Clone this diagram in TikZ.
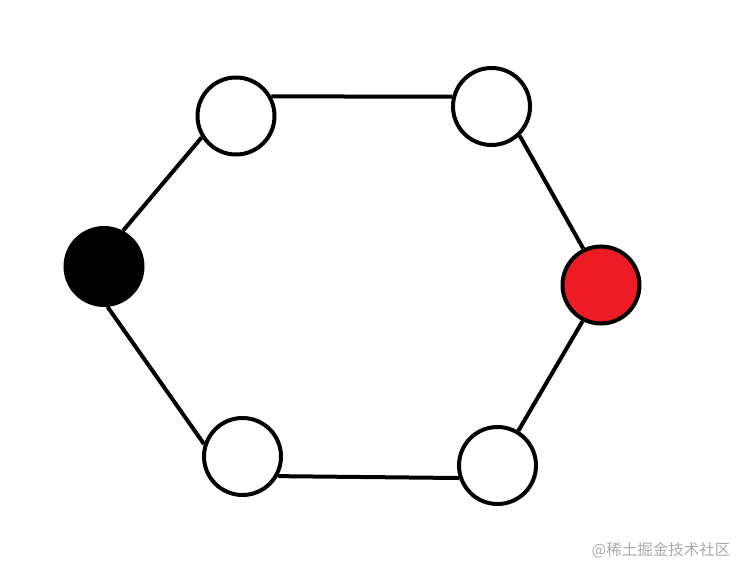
\documentclass[tikz,border=0pt]{standalone}
\usepackage{fontspec}
\newfontfamily\cjk{Noto Sans CJK SC}
\definecolor{paintred}{RGB}{237,28,36}
\definecolor{markgray}{RGB}{170,170,170}
\begin{document}
\begin{tikzpicture}[x=1pt, y=-1pt, vertex/.style={circle, fill=white, draw, line width=4pt, minimum size=77pt, inner sep=0pt}, edge/.style={line width=4pt}]
	    \useasboundingbox (0,0) rectangle (749,577);
	    \node[vertex] (1) at (236, 116)  {};
	    \node[vertex] (2) at (491.5, 106.5)  {};
	    \node[vertex, fill=paintred] (3) at (601, 285)  {};
	    \node[vertex] (4) at (497.5, 465.5)  {};
	    \node[vertex] (5) at (242.5, 456.5)  {};
	    \node[vertex, fill=black] (6) at (104, 266.5)  {};
	    \draw[edge] (1.29) -- (2.166);
	    \draw[edge] (2.-46) -- (3.116);
	    \draw[edge] (3.243) -- (4.59);
	    \draw[edge] (4.198) -- (5.-29);
	    \draw[edge] (5.162) -- (6.-85);
	    \draw[edge] (6.62) -- (1.212);
	    \node[text=markgray, font=\cjk\fontsize{15.5}{18}\selectfont] (mark) at (661, 550) {@稀土掘金技术社区};
	\end{tikzpicture}
\end{document}
